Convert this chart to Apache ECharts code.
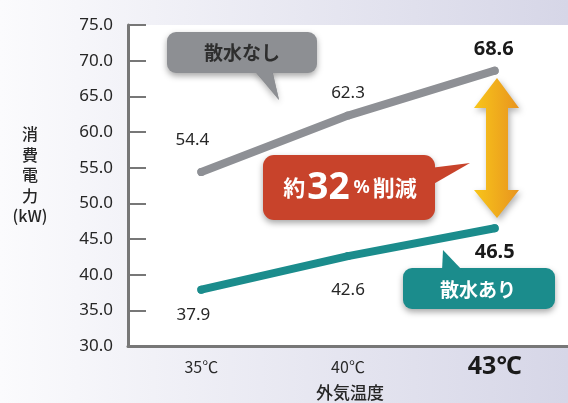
<!DOCTYPE html>
<html><head><meta charset="utf-8">
<script src="https://cdn.jsdelivr.net/npm/echarts@6/dist/echarts.min.js"></script>
<style>html,body{margin:0;padding:0;}#c{width:568px;height:403px;}</style>
</head><body><div id="c"></div>
<script>
const categories = ['35℃', '40℃', '43℃'];
const withoutWater = [54.4, 62.3, 68.6];
const withWater = [37.9, 42.6, 46.5];
const yTicks = [30, 35, 40, 45, 50, 55, 60, 65, 70, 75];

const FONT = '"Noto Sans", "Noto Sans CJK JP", sans-serif';
const JFONT = '"Noto Sans CJK JP", "Noto Sans", sans-serif';
const chart = echarts.init(document.getElementById('c'));

const offA = [[-9, -32], [0, -22], [-1, -21]];
const offB = [[-8, 26], [0, 34], [0, 24]];
function items(vals, offs) {
  return vals.map((v, i) => ({
    value: v,
    label: {
      offset: offs[i],
      fontSize: i === 2 ? 20 : 17,
      fontWeight: i === 2 ? 'bold' : 'normal',
      color: i === 2 ? '#1a1a1a' : '#262626'
    }
  }));
}

chart.setOption({
  backgroundColor: {
    type: 'linear', x: 0, y: 0, x2: 1, y2: 0,
    colorStops: [{offset: 0, color: '#fbfbfd'}, {offset: 1, color: '#d6d6e7'}]
  },
  textStyle: {fontFamily: FONT},
  grid: {left: 128, right: -7, top: 25, bottom: 57, show: true, backgroundColor: '#ffffff', borderWidth: 0},
  xAxis: {
    type: 'category', data: categories, boundaryGap: true,
    axisLine: {lineStyle: {color: '#777', width: 3}},
    axisTick: {show: false},
    axisLabel: {
      margin: 6,
      formatter: (v, i) => i === 2 ? '{b|' + v + '}' : '{n|' + v + '}',
      rich: {
        n: {fontSize: 16, color: '#2a2a2a', lineHeight: 30, fontFamily: JFONT},
        b: {fontSize: 25, fontWeight: 'bold', color: '#1a1a1a', lineHeight: 30, fontFamily: FONT}
      }
    }
  },
  yAxis: {
    type: 'value', min: yTicks[0], max: yTicks[yTicks.length - 1], interval: 5,
    axisLine: {show: true, lineStyle: {color: '#777', width: 3}},
    axisTick: {show: true, inside: true, length: 18, lineStyle: {color: '#777', width: 2}},
    splitLine: {show: false},
    axisLabel: {margin: 15, fontSize: 17, color: '#262626', padding: [8, 0, 0, 0],
      formatter: v => v.toFixed(1)}
  },
  series: [
    {
      type: 'line', data: items(withoutWater, offA), symbol: 'circle', symbolSize: 8,
      itemStyle: {color: '#8e9095'},
      lineStyle: {width: 8, color: '#8e9095', cap: 'round'},
      label: {show: true, position: 'inside', fontFamily: FONT, formatter: p => p.value.toFixed(1)},
      z: 3
    },
    {
      type: 'line', data: items(withWater, offB), symbol: 'circle', symbolSize: 8,
      itemStyle: {color: '#1b8c8c'},
      lineStyle: {width: 8, color: '#1b8c8c', cap: 'round'},
      label: {show: true, position: 'inside', fontFamily: FONT, formatter: p => p.value.toFixed(1)},
      z: 3
    }
  ],
  graphic: [
    {type: 'text', x: 30, y: 124, style: {
      text: '消\n費\n電\n力\n(kW)', fontSize: 16, fontWeight: 500, lineHeight: 20.5, fill: '#262626', align: 'center',
      fontFamily: JFONT}},
    {type: 'text', x: 350, y: 393, style: {text: '外気温度', fontSize: 17, fontWeight: 500, fill: '#262626',
      align: 'center', verticalAlign: 'middle', fontFamily: JFONT}},
    // grey bubble
    {type: 'group', z: 10, children: [
      {type: 'polygon', shape: {points: [[254, 70], [272, 70], [279, 100]]},
        style: {fill: '#8d8f93', shadowBlur: 6, shadowColor: 'rgba(0,0,0,0.3)', shadowOffsetY: 3}},
      {type: 'rect', shape: {x: 167, y: 32, width: 150, height: 41, r: 9},
        style: {fill: '#8d8f93', shadowBlur: 6, shadowColor: 'rgba(0,0,0,0.35)', shadowOffsetY: 3}},
      {type: 'polygon', shape: {points: [[254, 70], [272, 70], [279, 100]]}, style: {fill: '#8d8f93'}},
      {type: 'text', x: 242, y: 53, style: {text: '散水なし', fontSize: 19, fontWeight: 'bold',
        fill: '#2e2e2e', align: 'center', verticalAlign: 'middle', fontFamily: JFONT}}
    ]},
    // teal bubble
    {type: 'group', z: 10, children: [
      {type: 'rect', shape: {x: 403, y: 268, width: 152, height: 41, r: 9},
        style: {fill: '#1b8c8c', shadowBlur: 6, shadowColor: 'rgba(0,0,0,0.35)', shadowOffsetY: 3}},
      {type: 'polygon', shape: {points: [[443, 250], [442, 271], [463, 271]]}, style: {fill: '#1b8c8c'}},
      {type: 'text', x: 478, y: 290, style: {text: '散水あり', fontSize: 19, fontWeight: 'bold',
        fill: '#ffffff', align: 'center', verticalAlign: 'middle', fontFamily: JFONT}}
    ]},
    // red callout
    {type: 'group', z: 10, children: [
      {type: 'rect', shape: {x: 263, y: 155, width: 172, height: 65, r: 11},
        style: {fill: '#c8432b', shadowBlur: 6, shadowColor: 'rgba(0,0,0,0.35)', shadowOffsetY: 3}},
      {type: 'polygon', shape: {points: [[430, 168], [470, 163], [430, 186]]}, style: {fill: '#c8432b'}},
      {type: 'text', x: 350, y: 188, style: {
        text: '{a|約}{b|32}{c|%}{a|削減}', align: 'center', verticalAlign: 'middle',
        rich: {
          a: {fontSize: 22, fontWeight: 'bold', fill: '#fff', fontFamily: JFONT},
          b: {fontSize: 37, fontWeight: 'bold', fill: '#fff', fontFamily: FONT, padding: [0, 2, 0, 2]},
          c: {fontSize: 18, fontWeight: 'bold', fill: '#fff', fontFamily: FONT, padding: [0, 3, 0, 2]}
        }}}
    ]},
    // double arrow
    {type: 'polygon', z: 9, shape: {points: [
      [497, 78], [519, 108], [508, 108], [508, 190], [519, 190], [497, 218],
      [474, 190], [486, 190], [486, 108], [474, 108]]},
      style: {fill: {type: 'linear', x: 0, y: 0, x2: 1, y2: 0,
        colorStops: [{offset: 0, color: '#f8c51a'}, {offset: 1, color: '#e8941f'}]},
        shadowBlur: 6, shadowColor: 'rgba(0,0,0,0.3)', shadowOffsetX: 2, shadowOffsetY: 3}}
  ]
});
</script></body></html>
